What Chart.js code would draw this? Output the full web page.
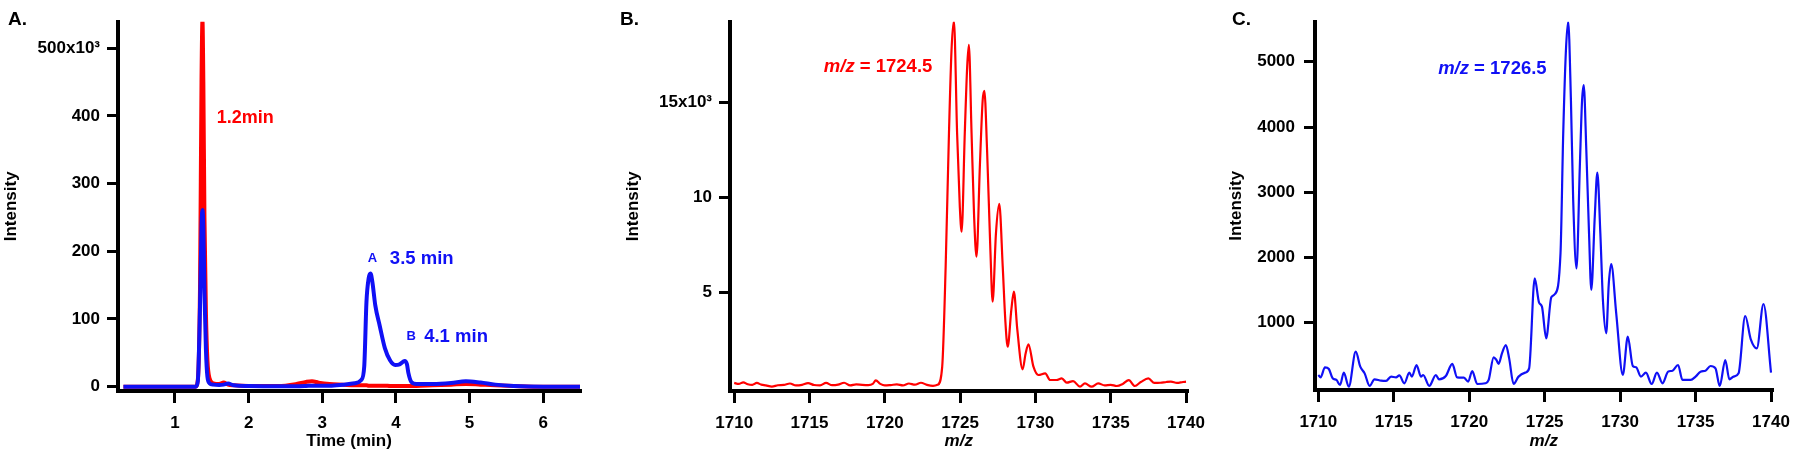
<!DOCTYPE html>
<html>
<head>
<meta charset="utf-8">
<script src="https://cdn.jsdelivr.net/npm/chart.js@4.4.1/dist/chart.umd.min.js"></script>
<style>
  html, body { margin: 0; padding: 0; background: #fff; }
  #page { position: relative; width: 1800px; height: 453px; overflow: hidden; }
  canvas { position: absolute; top: 0; }
  .panel { position: absolute; top: 9px; font: bold 19px "Liberation Sans", Arial, sans-serif; line-height: 19px; color: #000; }
</style>
</head>
<body>
<div id="page">
  <canvas id="chart-a" width="600" height="453" style="left:0px"></canvas>
  <canvas id="chart-b" width="593" height="453" style="left:622px"></canvas>
  <canvas id="chart-c" width="575" height="453" style="left:1225px"></canvas>
  <div class="panel" style="left:8px">A.</div>
  <div class="panel" style="left:620px">B.</div>
  <div class="panel" style="left:1232px">C.</div>
</div>
<script>
// Panel A: chromatogram, intensity in units of 10^3
const timeA = [
  0.30, 0.80, 1.10, 1.28, 1.31, 1.34, 1.36, 1.373, 1.385, 1.40,
  1.42, 1.44, 1.47, 1.52, 1.60, 1.66, 1.72, 1.80, 2.00, 2.40,
  2.65, 2.78, 2.86, 2.95, 3.10, 3.28, 3.44, 3.53, 3.57, 3.60,
  3.63, 3.655, 3.68, 3.72, 3.78, 3.85, 3.92, 3.99, 4.05, 4.12,
  4.15, 4.17, 4.21, 4.28, 4.50, 4.75, 4.95, 5.15, 5.35, 5.60,
  6.00, 6.50,
];
const redA = [
  0, 0, 0, 0, 10, 150, 450, 540, 450, 250,
  110, 40, 12, 5, 4, 6, 3, 2, 1, 1,
  4, 7, 8, 6, 4, 3, 2, 2, 2, 2,
  1.5, 1.5, 1.5, 1.5, 1.5, 1.5, 1, 1, 1, 1,
  1, 1, 1, 1, 2, 3, 4, 3, 2, 1,
  0, 0,
];
const blueA = [
  0, 0, 0, 0, 8, 120, 235, 261, 235, 140,
  55, 15, 5, 3, 2.5, 3, 4.5, 2, 1, 0.5,
  0.5, 1, 1.5, 1.5, 1.5, 3, 5, 10, 30, 125,
  160, 167, 155, 120, 90, 57, 39, 32, 33, 38,
  33, 20, 7, 4, 4, 5.5, 8, 6, 3, 1,
  0, 0,
];
const timeTicksA = [1, 2, 3, 4, 5, 6];
const intensityTicksA = [0, 100, 200, 300, 400, 500];

// Panel B: spectrum m/z 1724.5, intensity in units of 10^3
const mzB = [
  1710.0, 1710.3, 1710.6, 1710.9, 1711.2, 1711.5, 1711.8, 1712.1, 1712.5, 1712.9,
  1713.3, 1713.7, 1714.1, 1714.5, 1714.9, 1715.3, 1715.7, 1716.1, 1716.5, 1716.9,
  1717.3, 1717.7, 1718.1, 1718.5, 1718.9, 1719.2, 1719.4, 1719.7, 1720.0, 1720.4,
  1720.8, 1721.2, 1721.6, 1722.0, 1722.4, 1722.8, 1723.2, 1723.5, 1723.81, 1724.04,
  1724.26, 1724.43, 1724.59, 1724.80, 1724.98, 1725.10, 1725.31, 1725.47, 1725.58, 1725.76,
  1725.93, 1726.09, 1726.31, 1726.50, 1726.61, 1726.79, 1727.01, 1727.16, 1727.38, 1727.60,
  1727.83, 1728.00, 1728.16, 1728.40, 1728.57, 1728.80, 1729.15, 1729.35, 1729.54, 1729.87,
  1730.20, 1730.65, 1730.98, 1731.40, 1731.75, 1732.08, 1732.50, 1732.96, 1733.29, 1733.73,
  1734.17, 1734.60, 1735.00, 1735.40, 1735.80, 1736.20, 1736.60, 1737.00, 1737.50, 1737.90,
  1738.30, 1738.70, 1739.00, 1739.40, 1739.80, 1740.00,
];
const intensityB = [
  0.250, 0.200, 0.280, 0.180, 0.150, 0.250, 0.160, 0.120, 0.060, 0.130,
  0.150, 0.220, 0.120, 0.150, 0.240, 0.140, 0.120, 0.250, 0.130, 0.160,
  0.260, 0.120, 0.170, 0.150, 0.140, 0.200, 0.380, 0.200, 0.120, 0.140,
  0.170, 0.120, 0.220, 0.160, 0.260, 0.150, 0.100, 0.150, 1.100, 6.370,
  13.39, 17.77, 19.30, 13.39, 9.526, 8.210, 13.39, 16.90, 18.04, 13.39,
  9.000, 6.895, 11.63, 15.14, 15.63, 12.51, 7.247, 4.526, 8.126, 9.670,
  6.370, 3.563, 2.158, 4.090, 5.053, 3.037, 0.968, 1.800, 2.284, 1.105,
  0.668, 0.756, 0.405, 0.405, 0.492, 0.264, 0.351, 0.053, 0.230, 0.053,
  0.230, 0.120, 0.150, 0.090, 0.200, 0.400, 0.090, 0.300, 0.490, 0.250,
  0.260, 0.300, 0.316, 0.250, 0.300, 0.316,
];
const mzTicks = [1710, 1715, 1720, 1725, 1730, 1735, 1740];
const intensityTicksB = [5, 10, 15];

// Panel C: spectrum m/z 1726.5
const mzC = [
  1710.00, 1710.15, 1710.44, 1710.70, 1710.95, 1711.20, 1711.44, 1711.69, 1712.02, 1712.48,
  1712.78, 1713.07, 1713.40, 1713.72, 1714.16, 1714.49, 1714.82, 1715.15, 1715.37, 1715.70,
  1716.03, 1716.20, 1716.51, 1716.80, 1716.95, 1717.35, 1717.79, 1718.00, 1718.45, 1718.88,
  1719.20, 1719.65, 1719.93, 1720.20, 1720.53, 1721.07, 1721.29, 1721.62, 1721.80, 1721.95,
  1722.17, 1722.43, 1722.65, 1722.94, 1723.27, 1723.71, 1723.97, 1724.34, 1724.63, 1724.82,
  1725.10, 1725.44, 1725.68, 1726.05, 1726.23, 1726.41, 1726.56, 1726.74, 1726.89, 1727.11,
  1727.33, 1727.48, 1727.59, 1727.76, 1727.94, 1728.09, 1728.32, 1728.49, 1728.69, 1728.86,
  1729.08, 1729.25, 1729.41, 1729.74, 1730.18, 1730.51, 1730.84, 1731.06, 1731.38, 1731.71,
  1732.09, 1732.44, 1732.81, 1733.18, 1733.47, 1733.84, 1734.13, 1734.68, 1735.00, 1735.33,
  1735.66, 1735.99, 1736.32, 1736.60, 1736.97, 1737.24, 1737.52, 1737.85, 1738.29, 1738.66,
  1739.06, 1739.50, 1740.00,
];
const intensityC = [
  199, 163, 317, 291, 148, 123, 46, 235, 20, 557,
  327, 224, 31, 133, 112, 108, 174, 163, 194, 72,
  235, 174, 352, 174, 199, 31, 199, 133, 184, 368,
  163, 158, 97, 260, 61, 72, 123, 470, 430, 370,
  531, 659, 450, 61, 174, 235, 301, 1680, 1308, 1247,
  761, 1390, 1440, 2064, 3903, 5180, 5614, 4414, 2881, 1834,
  3391, 4414, 4644, 3648, 2371, 1502, 2625, 3300, 2371, 1349,
  838, 1604, 1900, 1149, 200, 787, 337, 317, 174, 235,
  61, 235, 72, 250, 265, 352, 123, 123, 174, 250,
  265, 337, 301, 31, 429, 133, 174, 225, 1103, 746,
  608, 1287, 235,
];
const intensityTicksC = [1000, 2000, 3000, 4000, 5000];

const FONT = "'Liberation Sans', Arial, sans-serif";
const RED = "#ff0000";
const BLUE = "#1010f5";

Chart.defaults.font.family = FONT;
Chart.defaults.color = "#000";

const toPoints = (xs, ys) => xs.map((x, i) => ({ x, y: ys[i] }));
const fixedTicks = (values) => (s) => { s.ticks = values.map((value) => ({ value })); };

// draws the coloured peak labels at data coordinates
const peakText = {
  id: "peakText",
  afterDatasetsDraw(chart, args, opts) {
    const { ctx, scales } = chart;
    (opts.items || []).forEach((item) => {
      let px = scales.x.getPixelForValue(item.x);
      const py = scales.y.getPixelForValue(item.y);
      ctx.save();
      ctx.textAlign = "left";
      ctx.textBaseline = "middle";
      ctx.fillStyle = item.color;
      item.parts.forEach((p) => {
        ctx.font = p.font;
        ctx.fillText(p.text, px, py);
        px += ctx.measureText(p.text).width;
      });
      ctx.restore();
    });
  },
};

const axisScales = (cfg) => ({
  x: {
    type: "linear",
    min: cfg.xMin,
    max: cfg.xMax,
    afterBuildTicks: fixedTicks(cfg.xTicks),
    afterFit: (s) => { s.height = cfg.xHeight; },
    border: { display: true, color: "#000", width: 4 },
    grid: { drawOnChartArea: false, drawTicks: true, tickLength: 12, lineWidth: 3, color: "#000" },
    ticks: {
      autoSkip: false,
      maxRotation: 0,
      padding: 10,
      color: "#000",
      font: { size: 17, weight: "bold" },
      callback: (v) => String(v),
    },
    title: {
      display: true,
      text: cfg.xTitle,
      color: "#000",
      padding: 1,
      font: { size: 17, weight: "bold", style: cfg.xTitleStyle || "normal" },
    },
  },
  y: {
    type: "linear",
    min: cfg.yMin,
    max: cfg.yMax,
    afterBuildTicks: fixedTicks(cfg.yTicks),
    afterFit: (s) => { s.width = cfg.yWidth; },
    border: { display: true, color: "#000", width: 4 },
    grid: { drawOnChartArea: false, drawTicks: true, tickLength: 11, lineWidth: 3, color: "#000" },
    ticks: {
      autoSkip: false,
      padding: cfg.yPad,
      color: "#000",
      font: { size: 17, weight: "bold" },
      callback: cfg.yLabel,
    },
    title: {
      display: true,
      text: "Intensity",
      color: "#000",
      padding: 1,
      font: { size: 17, weight: "bold" },
    },
  },
});

const baseOptions = (cfg, items, padRight) => ({
  responsive: false,
  animation: false,
  events: [],
  layout: { padding: { left: 0, top: 21.7, right: padRight, bottom: 0 } },
  plugins: {
    legend: { display: false },
    tooltip: { enabled: false },
    peakText: { items },
  },
  scales: axisScales(cfg),
});

const lineSet = (data, color, width) => ({
  data,
  borderColor: color,
  borderWidth: width,
  pointRadius: 0,
  fill: false,
  cubicInterpolationMode: "monotone",
});

// A. chromatogram
new Chart(document.getElementById("chart-a"), {
  type: "line",
  data: {
    datasets: [
      lineSet(toPoints(timeA, blueA), BLUE, 4),
      lineSet(toPoints(timeA, redA), RED, 4),
    ],
  },
  options: baseOptions(
    {
      xMin: 0.226, xMax: 6.5, xTicks: timeTicksA, xHeight: 62, xTitle: "Time (min)",
      yMin: -6.4, yMax: 539, yTicks: intensityTicksA, yWidth: 118, yPad: 7,
      yLabel: (v) => (v === 500 ? "500x10³" : String(v)),
    },
    [
      { x: 1.566, y: 396, color: RED, parts: [{ text: "1.2min", font: "bold 18px " + FONT }] },
      { x: 3.616, y: 190, color: BLUE, parts: [{ text: "A", font: "bold 13px " + FONT }] },
      { x: 3.918, y: 189, color: BLUE, parts: [{ text: "3.5 min", font: "bold 18.5px " + FONT }] },
      { x: 4.145, y: 74, color: BLUE, parts: [{ text: "B", font: "bold 13px " + FONT }] },
      { x: 4.384, y: 74, color: BLUE, parts: [{ text: "4.1 min", font: "bold 18.5px " + FONT }] },
    ],
    20
  ),
  plugins: [peakText],
});

// B. spectrum, red
new Chart(document.getElementById("chart-b"), {
  type: "line",
  data: { datasets: [lineSet(toPoints(mzB, intensityB), RED, 2.2)] },
  options: baseOptions(
    {
      xMin: 1709.72, xMax: 1740.1, xTicks: mzTicks, xHeight: 62, xTitle: "m/z", xTitleStyle: "italic",
      yMin: -0.174, yMax: 19.263, yTicks: intensityTicksB, yWidth: 108, yPad: 7,
      yLabel: (v) => (v === 15 ? "15x10³" : String(v)),
    },
    [
      {
        x: 1715.95, y: 16.89, color: RED,
        parts: [
          { text: "m/z", font: "italic bold 18.5px " + FONT },
          { text: " = 1724.5", font: "bold 18.5px " + FONT },
        ],
      },
    ],
    25
  ),
  plugins: [peakText],
});

// C. spectrum, blue
new Chart(document.getElementById("chart-c"), {
  type: "line",
  data: { datasets: [lineSet(toPoints(mzC, intensityC), BLUE, 2.2)] },
  options: baseOptions(
    {
      xMin: 1709.78, xMax: 1740.1, xTicks: mzTicks, xHeight: 63, xTitle: "m/z", xTitleStyle: "italic",
      yMin: -31, yMax: 5614, yTicks: intensityTicksC, yWidth: 90, yPad: 9,
      yLabel: (v) => String(v),
    },
    [
      {
        x: 1717.94, y: 4892, color: BLUE,
        parts: [
          { text: "m/z", font: "italic bold 18.5px " + FONT },
          { text: " = 1726.5", font: "bold 18.5px " + FONT },
        ],
      },
    ],
    24
  ),
  plugins: [peakText],
});
</script>
</body>
</html>
